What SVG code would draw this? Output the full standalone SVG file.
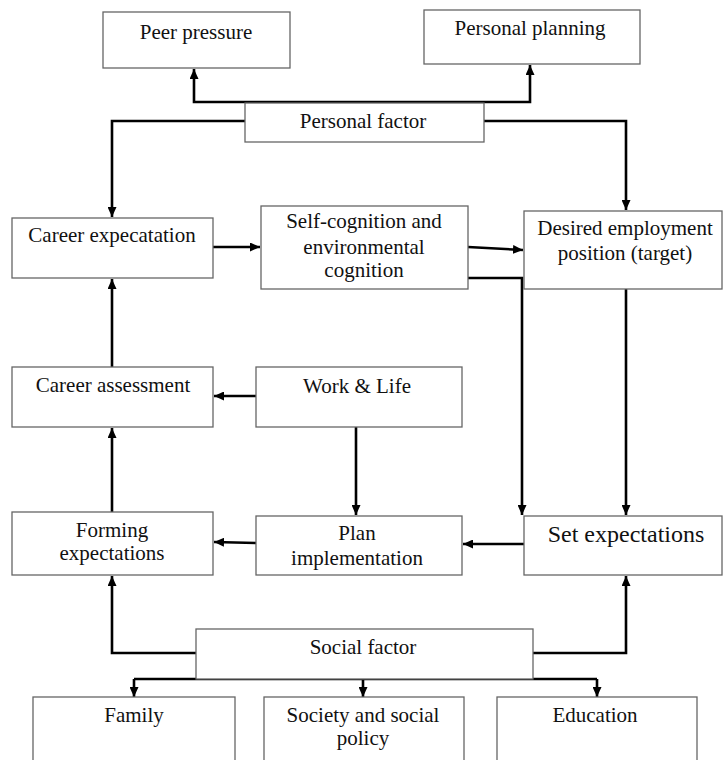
<svg xmlns="http://www.w3.org/2000/svg" width="723" height="760" viewBox="0 0 723 760">
<defs>
<marker id="ah" markerUnits="userSpaceOnUse" markerWidth="10" markerHeight="9" refX="10" refY="4.5" orient="auto">
<path d="M0,0 L10,4.5 L0,9 z" fill="#000"/>
</marker>
<style>
.box{fill:#fff;stroke:#666;stroke-width:1.3}
.t{font-family:"Liberation Serif","Times New Roman",serif;font-size:21px;fill:#111;text-anchor:middle}
.big{font-size:24px}
.c{fill:none;stroke:#000;stroke-width:2.6}
.a{marker-end:url(#ah)}
</style>
</defs>
<rect width="723" height="760" fill="#fff"/>
<g id="connectors">
<path class="c a" d="M363,102 H194 V69"/>
<path class="c a" d="M363,102 H530 V65"/>
<path class="c a" d="M245,121 H112 V217"/>
<path class="c a" d="M484,121 H626 V210"/>
<path class="c a" d="M213,247 H260"/>
<path class="c a" d="M468,247 L523,250"/>
<path class="c a" d="M468,278 H522 V515"/>
<path class="c a" d="M626,289 V515"/>
<path class="c a" d="M112,367 V279"/>
<path class="c a" d="M256,396 H214"/>
<path class="c a" d="M356,427 V515"/>
<path class="c a" d="M112,512 V428"/>
<path class="c a" d="M524,544 H463"/>
<path class="c a" d="M256,543 L214,542"/>
<path class="c a" d="M196,653 H112 V576"/>
<path class="c a" d="M533,653 H626 V576"/>
<path class="c" d="M134,679 H597"/>
<path class="c a" d="M134,679 V697"/>
<path class="c a" d="M363,679 V697"/>
<path class="c a" d="M597,679 V697"/>
</g>
<g id="peer-pressure"><rect class="box" x="103" y="12" width="187" height="56"/><text class="t" x="196" y="39">Peer pressure</text></g>
<g id="personal-planning"><rect class="box" x="424" y="10" width="216" height="54"/><text class="t" x="530" y="35">Personal planning</text></g>
<g id="personal-factor"><rect class="box" x="245" y="103" width="239" height="39"/><text class="t" x="363" y="128">Personal factor</text></g>
<g id="career-expectation"><rect class="box" x="12" y="218" width="201" height="60"/><text class="t" x="112" y="242">Career expecatation</text></g>
<g id="self-cognition"><rect class="box" x="261" y="206" width="207" height="83"/><text class="t" x="364" y="228">Self-cognition and</text><text class="t" x="364" y="254">environmental</text><text class="t" x="364" y="277">cognition</text></g>
<g id="desired-position"><rect class="box" x="524" y="211" width="198" height="78"/><text class="t" x="625" y="235">Desired employment</text><text class="t" x="625" y="260">position (target)</text></g>
<g id="career-assessment"><rect class="box" x="12" y="367" width="201" height="60"/><text class="t" x="113" y="392">Career assessment</text></g>
<g id="work-life"><rect class="box" x="256" y="367" width="206" height="60"/><text class="t" x="357" y="393">Work &amp; Life</text></g>
<g id="forming-expectations"><rect class="box" x="12" y="512" width="201" height="63"/><text class="t" x="112" y="537">Forming</text><text class="t" x="112" y="560">expectations</text></g>
<g id="plan-implementation"><rect class="box" x="256" y="516" width="206" height="59"/><text class="t" x="357" y="540">Plan</text><text class="t" x="357" y="565">implementation</text></g>
<g id="set-expectations"><rect class="box" x="524" y="516" width="198" height="59"/><text class="t big" x="626" y="542">Set expectations</text></g>
<g id="social-factor"><rect class="box" x="196" y="629" width="337" height="50"/><text class="t" x="363" y="654">Social factor</text></g>
<g id="family"><rect class="box" x="33" y="697" width="202" height="66"/><text class="t" x="134" y="722">Family</text></g>
<g id="society"><rect class="box" x="264" y="697" width="200" height="66"/><text class="t" x="363" y="722">Society and social</text><text class="t" x="363" y="745">policy</text></g>
<g id="education"><rect class="box" x="497" y="697" width="200" height="66"/><text class="t" x="595" y="722">Education</text></g>
</svg>
